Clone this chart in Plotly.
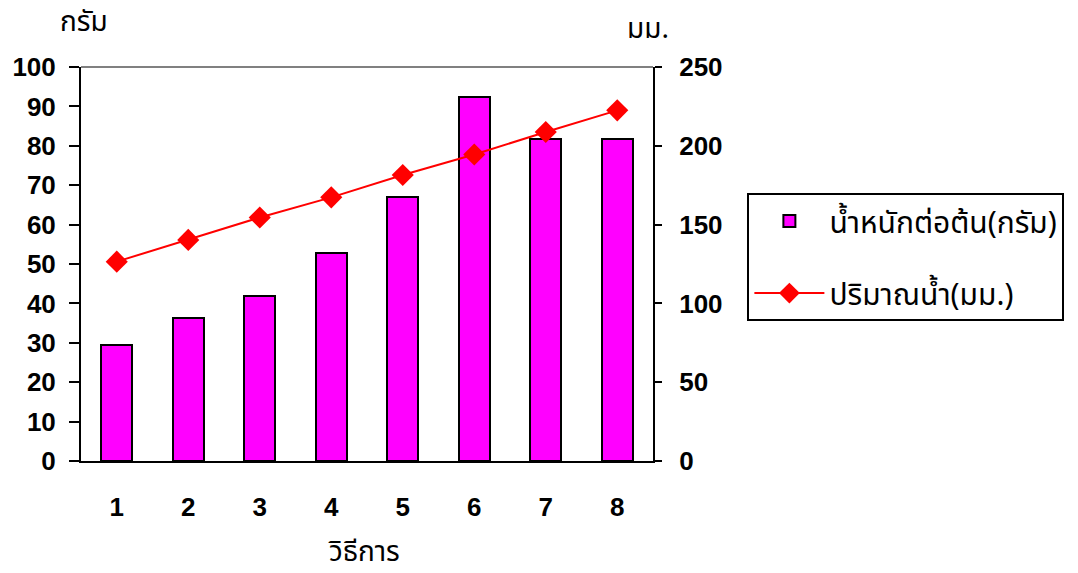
import plotly.graph_objects as go

# Data
methods = [1, 2, 3, 4, 5, 6, 7, 8]
method_labels = ["1", "2", "3", "4", "5", "6", "7", "8"]
weight_g = [29.5, 36.3, 42.0, 52.7, 67.1, 92.5, 81.7, 81.7]
water_mm = [126.5, 140.3, 154.5, 167.3, 181.5, 194.5, 208.8, 222.5]
left_ticks = [0, 10, 20, 30, 40, 50, 60, 70, 80, 90, 100]
right_ticks = [0, 50, 100, 150, 200, 250]

name_weight = "น้ำหนักต่อต้น(กรัม)"
name_water = "ปริมาณน้ำ(มม.)"

NUM_FONT = "Liberation Sans, Arial, sans-serif"
THAI_FONT = "Tahoma, Noto Sans Thai, Loma, Garuda, sans-serif"

# category boundaries for the tick marks between groups
boundaries = [m - 0.5 for m in methods] + [methods[-1] + 0.5]
xr = [methods[0] - 0.5, methods[-1] + 0.5]

fig = go.Figure()
fig.add_trace(go.Bar(
    x=methods, y=weight_g, name=name_weight, width=0.43,
    marker=dict(color="#FF00FF", line=dict(color="black", width=2)),
    xaxis="x", yaxis="y", legendgroup="a",
))
fig.add_trace(go.Scatter(
    x=methods, y=water_mm, name=name_water, mode="lines+markers",
    line=dict(color="#FF0000", width=2),
    marker=dict(symbol="diamond", size=17, color="#FF0000"),
    xaxis="x", yaxis="y2", legendgroup="b",
))

tick_font = dict(family=NUM_FONT, size=26, color="black", weight="bold")
thai_font = dict(family=THAI_FONT, size=28, color="black")
legend_font = dict(family=THAI_FONT, size=30, color="black")

fig.update_layout(
    width=1078, height=573,
    margin=dict(l=77, r=425, t=67, b=112),
    paper_bgcolor="white", plot_bgcolor="white",
    showlegend=True,
    bargap=0,
    xaxis=dict(
        range=xr, tickvals=methods, ticktext=method_labels, ticks="",
        showline=True, linecolor="black", linewidth=2, showgrid=False,
        zeroline=False, tickfont=tick_font, ticklabelstandoff=22,
        fixedrange=True,
    ),
    xaxis2=dict(
        overlaying="x", anchor="y", range=xr, tickvals=boundaries,
        ticks="outside", ticklen=10, tickwidth=2, tickcolor="black",
        showticklabels=False, showline=False, showgrid=False, zeroline=False,
    ),
    xaxis3=dict(
        overlaying="x", anchor="y", range=xr, tickvals=boundaries,
        ticks="inside", ticklen=7, tickwidth=2, tickcolor="black",
        showticklabels=False, showline=False, showgrid=False, zeroline=False,
    ),
    yaxis=dict(
        range=[0, 100], tickvals=left_ticks, ticks="outside", ticklen=10,
        tickwidth=2, tickcolor="black", showline=True, linecolor="black",
        linewidth=2, showgrid=False, zeroline=False, tickfont=tick_font,
        ticklabelstandoff=8,
    ),
    yaxis3=dict(
        overlaying="y", side="left", anchor="x", range=[0, 100],
        tickvals=left_ticks, ticks="inside", ticklen=8, tickwidth=2,
        tickcolor="black", showticklabels=False, showline=False,
        showgrid=False, zeroline=False,
    ),
    yaxis2=dict(
        overlaying="y", side="right", anchor="x", range=[0, 250],
        tickvals=right_ticks, ticks="outside", ticklen=7, tickwidth=2,
        tickcolor="black", showline=True, linecolor="black", linewidth=2,
        showgrid=False, zeroline=False, tickfont=tick_font,
        ticklabelstandoff=12,
    ),
    yaxis4=dict(
        overlaying="y", side="right", anchor="x", range=[0, 250],
        tickvals=right_ticks, ticks="inside", ticklen=10, tickwidth=2,
        tickcolor="black", showticklabels=False, showline=False,
        showgrid=False, zeroline=False,
    ),
    legend=dict(
        x=1.165, y=0.68, xanchor="left", yanchor="top",
        bordercolor="black", borderwidth=2, bgcolor="white",
        font=legend_font,
        traceorder="grouped", tracegroupgap=30, itemwidth=70,
    ),
    shapes=[dict(
        type="line", xref="paper", yref="paper", x0=0, x1=1, y0=1, y1=1,
        line=dict(color="#808080", width=2), layer="below",
    )],
    annotations=[
        dict(text="กรัม", xref="paper", yref="paper", x=0.005, y=1.114,
             xanchor="center", yanchor="middle", showarrow=False, font=thai_font),
        dict(text="มม.", xref="paper", yref="paper", x=0.991, y=1.094,
             xanchor="center", yanchor="middle", showarrow=False, font=thai_font),
        dict(text="วิธีการ", xref="paper", yref="paper", x=0.495, y=-0.233,
             xanchor="center", yanchor="middle", showarrow=False, font=thai_font),
    ],
)

fig.write_html("out.html")
